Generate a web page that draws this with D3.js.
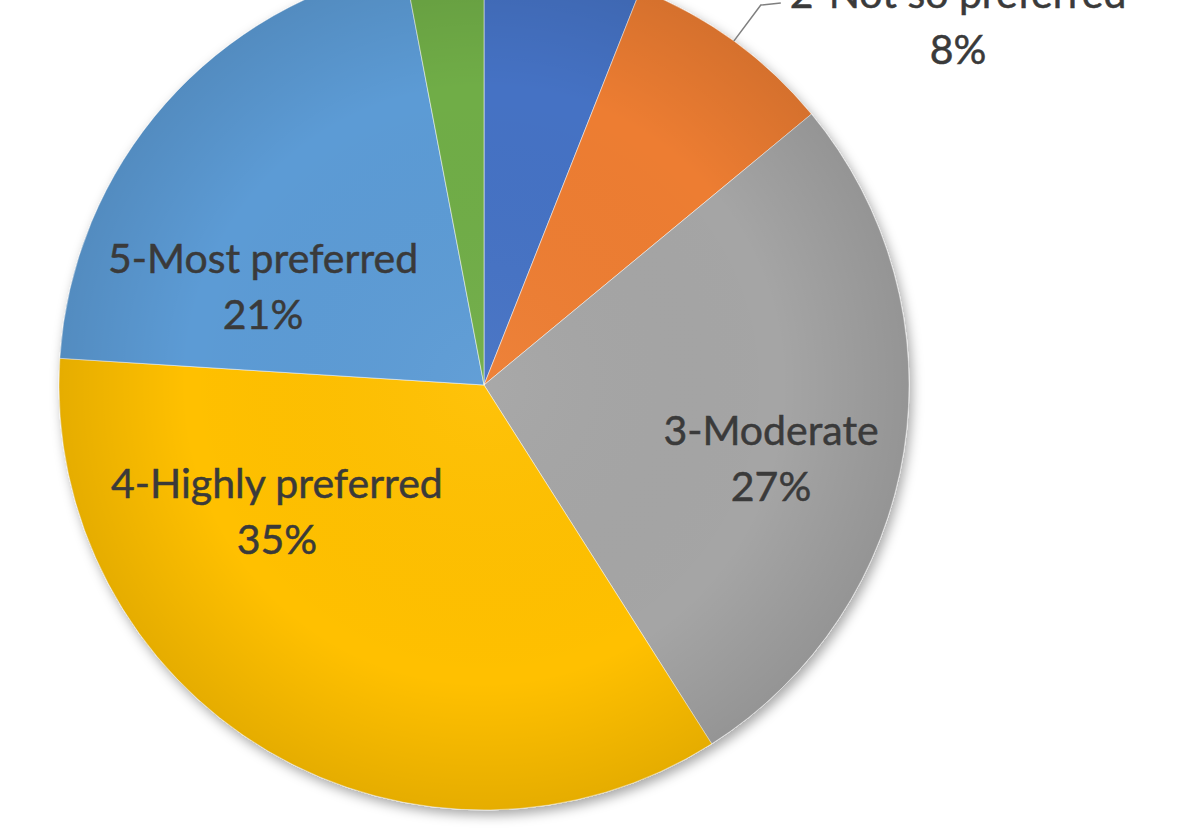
<!DOCTYPE html>
<html>
<head>
<meta charset="utf-8">
<script src="https://cdn.jsdelivr.net/npm/d3@7"></script>
<style>
html,body{margin:0;padding:0;background:#fff;}
svg{display:block;}
</style>
</head>
<body>
<svg id="chart" width="1178" height="836"></svg>
<script>
// ---- data ----
const categories = ["1-Least preferred", "2-Not so preferred", "3-Moderate", "4-Highly preferred", "5-Most preferred", "No response"];
const values = [6, 8, 27, 35, 21, 3];
const percentLabels = ["6%", "8%", "27%", "35%", "21%", "3%"];
const colors = ["#4472C4", "#ED7D31", "#A5A5A5", "#FFC000", "#5B9BD5", "#70AD47"];
// label placement: angle (deg clockwise from top) and radius (fraction of pie radius) of the first text baseline
const labelAngle = [null, 78.3, 101.8, 241.4, 296.9, null];
const labelRadius = [null, 1.25, 0.690, 0.555, 0.583, null];
const labelVisible = [false, true, true, true, true, false];

const W = 1178, H = 836;
const cx = 484, cy = 385, R = 425;

const svg = d3.select("#chart");
const defs = svg.append("defs");
const f = defs.append("filter").attr("id", "shadow").attr("x", "-20%").attr("y", "-20%").attr("width", "140%").attr("height", "140%");
f.append("feDropShadow").attr("dx", 3).attr("dy", 5).attr("stdDeviation", 6).attr("flood-color", "#000").attr("flood-opacity", 0.35);

const rg = defs.append("radialGradient").attr("id", "shade").attr("gradientUnits", "userSpaceOnUse")
  .attr("cx", 0).attr("cy", 0).attr("r", R);
rg.append("stop").attr("offset", "0%").attr("stop-color", "#fff").attr("stop-opacity", 0.04);
rg.append("stop").attr("offset", "70%").attr("stop-color", "#000").attr("stop-opacity", 0.0);
rg.append("stop").attr("offset", "100%").attr("stop-color", "#000").attr("stop-opacity", 0.10);

const g = svg.append("g").attr("transform", `translate(${cx},${cy})`);

const pie = d3.pie().value(d => d).sort(null);
const arcs = pie(values);
const arc = d3.arc().innerRadius(0).outerRadius(R);

const pieG = g.append("g").attr("filter", "url(#shadow)");
pieG.selectAll("path.slice").data(arcs).join("path")
  .attr("class", "slice")
  .attr("d", arc)
  .attr("fill", (d, i) => colors[i])
  .attr("stroke", "#ffffff")
  .attr("stroke-opacity", 0.5)
  .attr("stroke-width", 1);

g.append("circle").attr("r", R).attr("fill", "url(#shade)").attr("pointer-events", "none");

// leader line for the label outside the pie (slice 2)
const oi = 1;
const mid = (arcs[oi].startAngle + arcs[oi].endAngle) / 2;
const p0 = [R * Math.sin(mid), -R * Math.cos(mid)];
const p1 = [p0[0] + 27, -cy + 5];
const p2 = [p1[0] + 20, p1[1] - 2];
g.append("path")
  .attr("d", d3.line()([p0, p1, p2]))
  .attr("fill", "none").attr("stroke", "#7f7f7f").attr("stroke-width", 1.5);

const fontFam = "Lato, 'Open Sans', sans-serif";
const fs = 41;
arcs.forEach((d, i) => {
  if (!labelVisible[i]) return;
  const a = labelAngle[i] * Math.PI / 180;
  const r = labelRadius[i] * R;
  let x = r * Math.sin(a), y = -r * Math.cos(a);
  if (i === oi) { x = 958 - cx; y = 8 - cy; }
  const t = g.append("text")
    .attr("x", x).attr("y", y)
    .attr("text-anchor", "middle")
    .attr("font-family", fontFam)
    .attr("font-size", fs)
    .attr("fill", "#3a3a3a")
    .attr("stroke", "#3a3a3a")
    .attr("stroke-width", 0.5);
  t.append("tspan").attr("x", x).attr("dy", 0).text(categories[i]);
  t.append("tspan").attr("x", x).attr("dy", 56).text(percentLabels[i]);
});
</script>
</body>
</html>
